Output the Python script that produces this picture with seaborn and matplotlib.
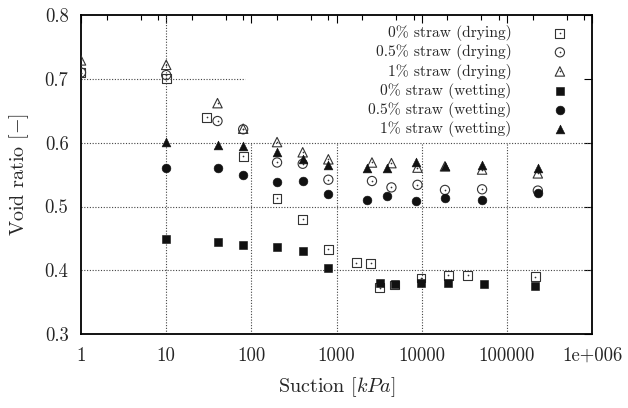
import matplotlib
matplotlib.use("Agg")
import matplotlib.pyplot as plt
import seaborn as sns

# suction [kPa] and void ratio
suction_dry_0 = [1, 10, 30, 80, 200, 400, 800, 1700, 2500, 3200, 4800, 9800, 20500, 34500, 215000]
e_dry_0 = [0.710, 0.701, 0.640, 0.579, 0.513, 0.480, 0.433, 0.412, 0.411, 0.373, 0.377, 0.388, 0.392, 0.392, 0.390]

suction_dry_05 = [1, 10, 40, 80, 200, 400, 800, 2600, 4400, 8900, 18700, 51000, 230000]
e_dry_05 = [0.710, 0.706, 0.634, 0.621, 0.569, 0.567, 0.542, 0.540, 0.530, 0.534, 0.526, 0.527, 0.525]

suction_dry_1 = [1, 10, 40, 80, 200, 400, 800, 2600, 4400, 8900, 18700, 51000, 230000]
e_dry_1 = [0.729, 0.722, 0.662, 0.622, 0.601, 0.585, 0.574, 0.569, 0.568, 0.561, 0.563, 0.558, 0.552]

suction_wet_0 = [10, 40, 80, 200, 400, 800, 3200, 4800, 9800, 20500, 54000, 215000]
e_wet_0 = [0.449, 0.444, 0.440, 0.436, 0.431, 0.403, 0.380, 0.379, 0.380, 0.380, 0.378, 0.376]

suction_wet_05 = [10, 40, 80, 200, 400, 800, 2300, 3900, 8500, 18700, 51000, 230000]
e_wet_05 = [0.560, 0.560, 0.550, 0.539, 0.540, 0.520, 0.510, 0.516, 0.509, 0.513, 0.510, 0.521]

suction_wet_1 = [10, 40, 80, 200, 400, 800, 2300, 3900, 8500, 18700, 51000, 230000]
e_wet_1 = [0.601, 0.596, 0.595, 0.586, 0.575, 0.565, 0.561, 0.560, 0.569, 0.564, 0.565, 0.561]

series_labels = ["0% straw (drying)", "0.5% straw (drying)", "1% straw (drying)",
                 "0% straw (wetting)", "0.5% straw (wetting)", "1% straw (wetting)"]

x_ticks = [1, 10, 100, 1000, 10000, 100000, 1000000]
x_tick_labels = ["1", "10", "100", "1000", "10000", "100000", "1e+006"]
x_minor = [m * 10 ** d for d in range(6) for m in (2, 5, 8)]
y_ticks = [0.3, 0.4, 0.5, 0.6, 0.7, 0.8]
y_tick_labels = ["0.3", "0.4", "0.5", "0.6", "0.7", "0.8"]

sns.set_style("white")
plt.rcParams["font.family"] = "serif"
plt.rcParams["font.serif"] = ["cmr10", "DejaVu Serif"]
plt.rcParams["mathtext.fontset"] = "cm"
plt.rcParams["axes.formatter.use_mathtext"] = True

fig = plt.figure(figsize=(6.28, 4.08), dpi=100)
ax = fig.add_axes([0.129, 0.181, 0.814, 0.782])

open_col = "#333333"
fill_col = "#111111"

styles = [
    (suction_dry_0, e_dry_0, "s", 40, True),
    (suction_dry_05, e_dry_05, "o", 44, True),
    (suction_dry_1, e_dry_1, "^", 46, True),
    (suction_wet_0, e_wet_0, "s", 36, False),
    (suction_wet_05, e_wet_05, "o", 40, False),
    (suction_wet_1, e_wet_1, "^", 40, False),
]

handles = []
for (xs, ys, mk, size, hollow), lab in zip(styles, series_labels):
    n_before = len(ax.collections)
    if hollow:
        sns.scatterplot(x=xs, y=ys, marker=mk, s=size, facecolor="none",
                        edgecolor=open_col, linewidth=0.8, ax=ax, zorder=3)
        main = ax.collections[n_before]
        sns.scatterplot(x=xs, y=ys, marker="o", s=1.5, color=open_col,
                        linewidth=0, ax=ax, zorder=3)
        dot = ax.collections[n_before + 1]
        handles.append((main, dot))
    else:
        sns.scatterplot(x=xs, y=ys, marker=mk, s=size, color=fill_col,
                        edgecolor=fill_col, linewidth=0.4, ax=ax, zorder=4)
        handles.append(ax.collections[n_before])

ax.set_xscale("log")
ax.set_xlim(1, 1e6)
ax.set_ylim(0.3, 0.8)
ax.set_xticks(x_ticks)
ax.set_xticklabels(x_tick_labels)
ax.set_xticks(x_minor, minor=True)
ax.set_xticklabels([], minor=True)
ax.set_yticks(y_ticks)
ax.set_yticklabels(y_tick_labels)

# gnuplot-like grid, cut where the key sits
key_left, key_bottom = 85, 0.6
grid_kw = dict(color="#444444", linewidth=0.8, linestyle=(0, (1, 1.5)), zorder=1)
for yv in y_ticks[1:-1]:
    ax.hlines(yv, 1, key_left if yv > key_bottom + 1e-9 else 1e6, **grid_kw)
for xv in x_ticks[1:-1]:
    ax.vlines(xv, 0.3, 0.8 if xv < key_left else key_bottom, **grid_kw)

ax.tick_params(which="both", direction="in", top=True, right=True,
               labelsize=13.5, pad=9, color="black")
ax.tick_params(which="major", length=5.5, width=0.8)
ax.tick_params(which="minor", length=3.5, width=0.8)
for sp in ax.spines.values():
    sp.set_color("black")
    sp.set_linewidth(1.3)

ax.set_xlabel(r"Suction $[kPa]$", fontsize=14.5, labelpad=8)
ax.set_ylabel(r"Void ratio $[-]$", fontsize=14.5, labelpad=10)

ax.legend(handles, series_labels, loc="upper right", bbox_to_anchor=(0.952, 0.968),
          frameon=False, markerfirst=False, fontsize=11.2, handlelength=1.0,
          handletextpad=2.6, labelspacing=0.2, borderpad=0, borderaxespad=0)

fig.savefig("out.png", dpi=100)
